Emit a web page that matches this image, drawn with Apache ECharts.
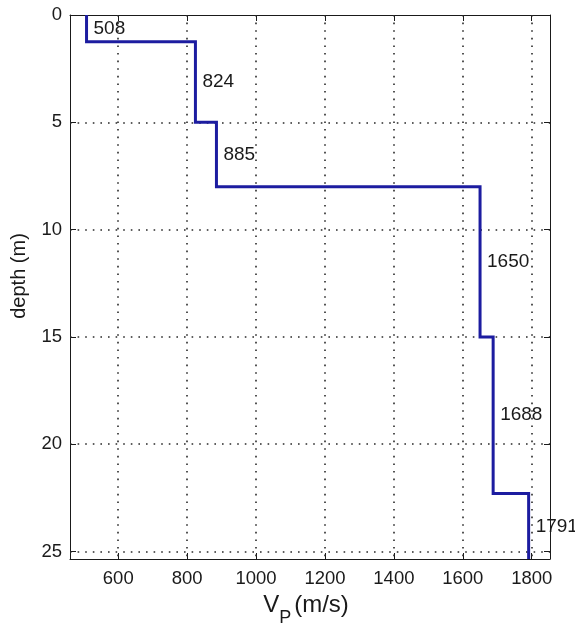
<!DOCTYPE html>
<html>
<head>
<meta charset="utf-8">
<script src="https://cdn.jsdelivr.net/npm/echarts@6/dist/echarts.min.js"></script>
<style>
  html, body { margin: 0; padding: 0; background: #fff; }
  #chart { width: 575px; height: 628px; }
</style>
</head>
<body>
<div id="chart"></div>
<script>
// P-wave velocity profile: one velocity per layer, layer tops in metres
const velocities = [508, 824, 885, 1650, 1688, 1791];
const layerTops = [0, 1.25, 5, 8, 15, 22.3];
const profileBottom = 25.35;

const xTicks = [600, 800, 1000, 1200, 1400, 1600, 1800];
const yTicks = [0, 5, 10, 15, 20, 25];

const X_MIN = 460, X_MAX = 1853;

// Step polyline: each layer is a vertical segment joined by horizontal jumps
const stepPoints = [];
const labelPoints = [];
velocities.forEach((v, i) => {
  const top = layerTops[i];
  const bottom = i + 1 < layerTops.length ? layerTops[i + 1] : profileBottom;
  stepPoints.push([v, top], [v, bottom]);
  labelPoints.push([v, (top + bottom) / 2]);
});

const font = 'Liberation Sans, Arial, Helvetica, sans-serif';
const ink = '#1a1a1a';
const dotted = { color: '#2a2a2a', width: 1.6, type: [1.6, 6] };
const plain = v => String(v);

const frameAxis = {
  axisLine: { show: true, onZero: false, lineStyle: { color: ink, width: 1 } },
  splitLine: { show: false }
};

const chart = echarts.init(document.getElementById('chart'), null, { renderer: 'canvas' });
chart.setOption({
  animation: false,
  backgroundColor: '#fff',
  grid: { left: 70, top: 15, right: 25, bottom: 69, containLabel: false, outerBoundsMode: 'none' },
  xAxis: [
    Object.assign({
      type: 'value', position: 'bottom', min: X_MIN, max: X_MAX,
      axisTick: { show: true, inside: true, length: 6, customValues: xTicks, lineStyle: { color: ink } },
      axisLabel: { show: true, customValues: xTicks, formatter: plain, margin: 10, color: ink, fontSize: 18.5, fontFamily: font },
      name: '{v|V}{s|P}{v|(m/s)}',
      nameLocation: 'middle',
      nameGap: 35,
      nameTextStyle: {
        fontFamily: font, color: ink, padding: [0, 8, 0, 0],
        rich: {
          v: { fontSize: 24, lineHeight: 24, fontFamily: font, color: ink, padding: [0, 0, 10, 0], verticalAlign: 'bottom' },
          s: { fontSize: 18, lineHeight: 18, fontFamily: font, color: ink, padding: [0, 3, 0, 0], verticalAlign: 'bottom' }
        }
      }
    }, frameAxis),
    Object.assign({
      type: 'value', position: 'top', min: X_MIN, max: X_MAX,
      axisTick: { show: true, inside: true, length: 6, customValues: xTicks, lineStyle: { color: ink } },
      axisLabel: { show: false }
    }, frameAxis)
  ],
  yAxis: [
    Object.assign({
      type: 'value', position: 'left', inverse: true, min: 0, max: profileBottom,
      axisTick: { show: true, inside: true, length: 6, customValues: yTicks, lineStyle: { color: ink } },
      axisLabel: { show: true, customValues: yTicks, formatter: plain, margin: 8, color: ink, fontSize: 18.5, fontFamily: font },
      name: 'depth (m)',
      nameLocation: 'middle',
      nameRotate: 90,
      nameGap: 41,
      nameTextStyle: { fontSize: 20, fontFamily: font, color: ink, padding: [0, 0, 0, 22] }
    }, frameAxis),
    Object.assign({
      type: 'value', position: 'right', inverse: true, min: 0, max: profileBottom,
      axisTick: { show: true, inside: true, length: 6, customValues: yTicks, lineStyle: { color: ink } },
      axisLabel: { show: false }
    }, frameAxis)
  ],
  series: [
    {
      // dotted grid drawn at the tick values
      type: 'line', data: [], silent: true,
      markLine: {
        silent: true, symbol: 'none', label: { show: false },
        lineStyle: dotted,
        data: xTicks.map(x => ({ xAxis: x }))
          .concat(yTicks.filter(y => y > 0).map(y => ({ yAxis: y })))
      }
    },
    {
      type: 'line',
      data: stepPoints,
      showSymbol: false,
      symbol: 'none',
      lineStyle: { color: '#1c1ca0', width: 3, join: 'miter', cap: 'butt' },
      z: 5
    },
    {
      // layer velocity annotations beside each vertical segment
      type: 'scatter',
      data: labelPoints,
      symbolSize: 0,
      itemStyle: { opacity: 1, color: 'transparent' },
      label: {
        show: true, position: 'right', distance: 7,
        formatter: p => String(p.value[0]),
        color: ink, fontSize: 19, fontFamily: font
      },
      z: 6
    }
  ]
});
</script>
</body>
</html>
